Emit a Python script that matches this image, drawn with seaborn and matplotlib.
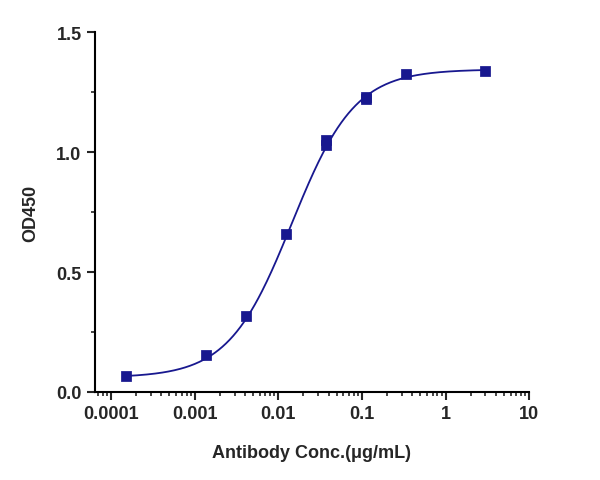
import numpy as np
import pandas as pd
import seaborn as sns
import matplotlib.pyplot as plt
from matplotlib.ticker import LogLocator, FixedLocator

sns.set_style('ticks')
plt.rcParams['font.family'] = ['Liberation Sans', 'DejaVu Sans']

conc = [0.000152, 0.00137, 0.00412, 0.0123, 0.037, 0.037, 0.111, 0.111, 0.333, 3.0]
od = [0.068, 0.155, 0.318, 0.658, 1.03, 1.05, 1.22, 1.23, 1.325, 1.34]

# 4PL fit parameters
bottom, top, ec50, hill = 0.06, 1.345, 0.0145, 1.15

df = pd.DataFrame({'conc': conc, 'od': od})
xs = np.logspace(np.log10(0.000152), np.log10(3.0), 300)
fit = pd.DataFrame({'conc': xs, 'od': bottom + (top - bottom) / (1 + (ec50 / xs) ** hill)})

fig = plt.figure(figsize=(6, 4.81), dpi=100)
ax = fig.add_axes([0.158, 0.183, 0.724, 0.748])
navy = '#18188f'
sns.lineplot(data=fit, x='conc', y='od', ax=ax, color=navy, lw=1.3)
sns.scatterplot(data=df, x='conc', y='od', ax=ax, color=navy, marker='s', s=45, edgecolor=navy, zorder=3)
ax.set_xscale('log')
ax.set_xlim(6.4e-5, 10)
ax.set_ylim(0, 1.5)
ax.xaxis.set_major_locator(FixedLocator([1e-4, 1e-3, 1e-2, 1e-1, 1, 10]))
ax.xaxis.set_minor_locator(LogLocator(subs=np.arange(2, 10), numticks=20))
ax.set_xticklabels(['0.0001', '0.001', '0.01', '0.1', '1', '10'])
ax.set_yticks([0, 0.5, 1.0, 1.5])
ax.set_yticklabels(['0.0', '0.5', '1.0', '1.5'])
ax.set_yticks([0.25, 0.75, 1.25], minor=True)
for s in ['top', 'right']:
    ax.spines[s].set_visible(False)
for s in ['left', 'bottom']:
    ax.spines[s].set_linewidth(1.5)
    ax.spines[s].set_color('black')
ax.tick_params(which='major', length=6, width=1.5, labelsize=13, direction='out')
ax.tick_params(which='minor', length=3, width=1.2)
for t in ax.get_xticklabels() + ax.get_yticklabels():
    t.set_fontweight('bold')
ax.set_xlabel('Antibody Conc.(μg/mL)', fontsize=13, fontweight='bold', labelpad=16)
ax.set_ylabel('OD450', fontsize=13, fontweight='bold', labelpad=12)
fig.savefig('out.png', dpi=100)
